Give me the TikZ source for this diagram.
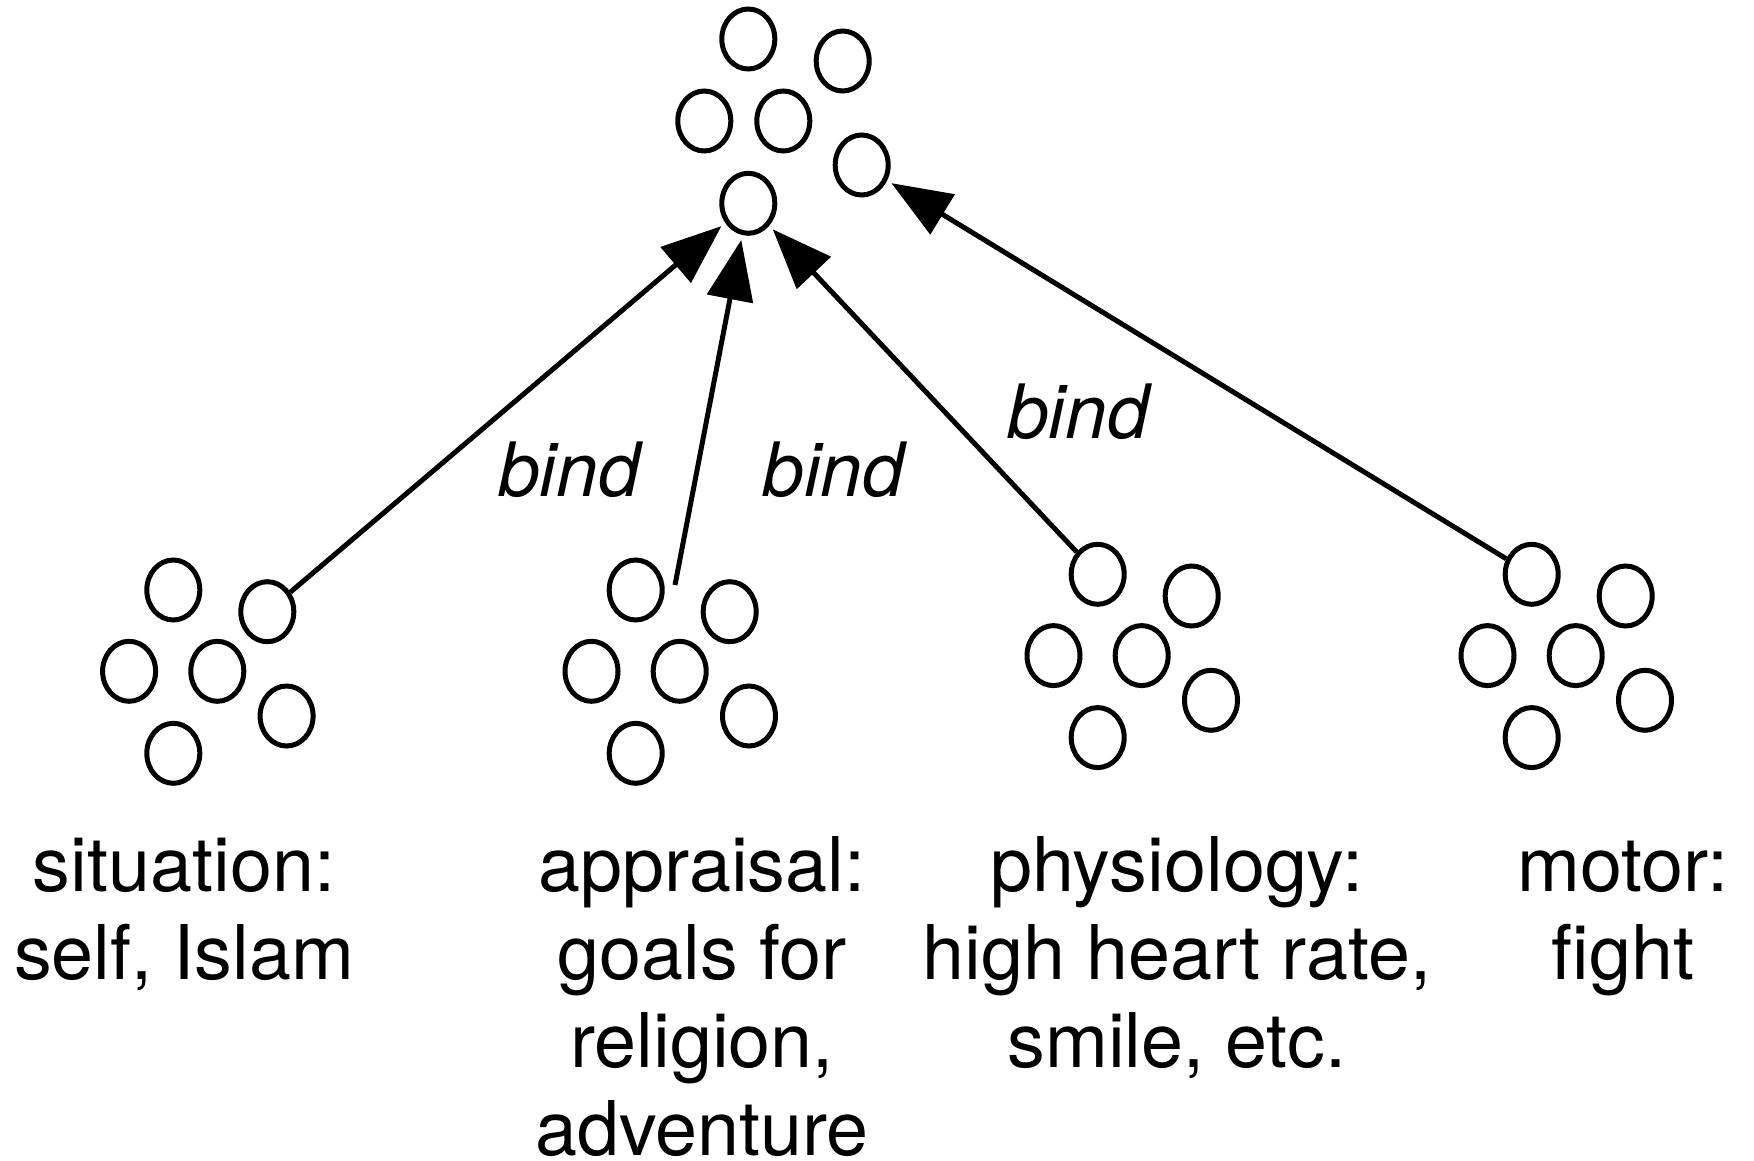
\documentclass[tikz,border=0pt]{standalone}
\usepackage{fontspec}
\setmainfont{TeX Gyre Heros}
\usetikzlibrary{shapes.geometric,arrows.meta}

\tikzset{
  blob/.style={ellipse, draw=black, line width=5pt, inner sep=0pt,
    minimum width=53pt, minimum height=60pt},
  link/.style={line width=5pt, -{Triangle[length=60pt,width=46pt]},
    shorten >=5pt},
  bindlabel/.style={anchor=base, inner sep=0pt,
    font=\fontsize{75}{88}\selectfont\itshape},
  % anchored at the baseline of the last line
  caption/.style={anchor=base, inner sep=0pt, align=center,
    font=\fontsize{75.5}{88}\selectfont}
}

\begin{document}
\begin{tikzpicture}[x=1pt,y=-1pt]
  \useasboundingbox (0,0) rectangle (1754,1161);
  \fill[white] (0,0) rectangle (1754,1161);

  % bound representation at the top
  \node[blob] (t1) at (748.3,39) {};
  \node[blob] (t2) at (842.7,61) {};
  \node[blob] (t3) at (704.3,121) {};
  \node[blob] (t4) at (783.3,121) {};
  \node[blob] (t5) at (861.7,165) {};
  \node[blob] (t6) at (748.3,203.3) {};

  % four input populations, same layout each
  \foreach \g/\x/\y in {s/173.3/590, a/635.7/590, p/1097.7/574.3, m/1531.7/574.3}{
    \foreach \k/\dx/\dy in {1/0/0, 2/94/21.7, 3/-44.2/81.3, 4/44/81.3,
                            5/113.3/126, 6/0/163.3}{
      \node[blob] (\g\k) at (\x+\dx,\y+\dy) {};
    }
  }

  % binding arrows
  \coordinate (a0) at (675,585);
  \draw[link] (s2) -- (t6);
  \draw[link] (a0) -- (t6);
  \draw[link] (p1) -- (t6);
  \draw[link] (m1) -- (t5);

  \node[bindlabel] (l1) at (569,496.7) {bind};
  \node[bindlabel] (l2) at (833.3,496.7) {bind};
  \node[bindlabel] (l3) at (1078,438.3) {bind};

  % captions (first line baseline at 891.7, 88pt per line)
  \node[caption] (cs) at (184,979.7) {situation:\\self, Islam};
  \node[caption] (ca) at (702,1155.7) {appraisal:\\goals for\\religion,\\adventure};
  \node[caption] (cp) at (1177,1067.7) {physiology:\\high heart rate,\\smile, etc.};
  \node[caption] (cm) at (1623,979.7) {motor:\\fight};
\end{tikzpicture}
\end{document}
